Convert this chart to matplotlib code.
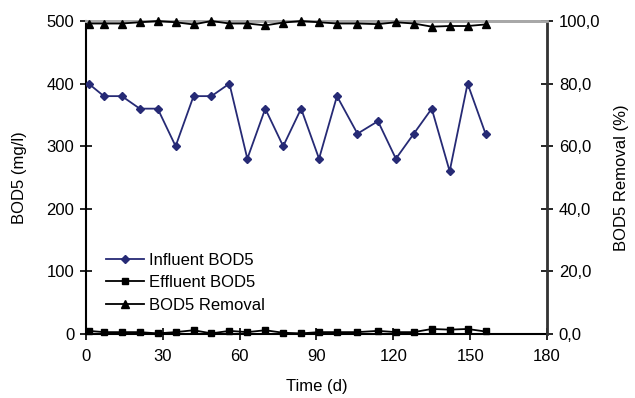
import matplotlib
matplotlib.use("Agg")
import matplotlib.pyplot as plt
from matplotlib.ticker import FuncFormatter

plt.rcParams['font.family'] = ['Liberation Sans', 'DejaVu Sans']

# sampling days (d)
days = [1, 7, 14, 21, 28, 35, 42, 49, 56, 63, 70, 77, 84, 91, 98,
        106, 114, 121, 128, 135, 142, 149, 156]
influent = [400, 380, 380, 360, 360, 300, 380, 380, 400, 280, 360, 300,
            360, 280, 380, 320, 340, 280, 320, 360, 260, 400, 320]
effluent = [5, 3, 3, 3, 1, 3, 6, 1, 5, 3, 6, 2, 1, 3, 3, 3, 5, 3, 3, 8, 7, 8, 4]
removal = [99.2, 99.2, 99.2, 99.6, 100.0, 99.6, 98.9, 100.0, 99.2, 99.2, 98.6, 99.5,
           100.0, 99.6, 99.2, 99.2, 99.0, 99.6, 99.2, 98.2, 98.4, 98.4, 98.9]

navy = "#262a75"
fs = 12

fig = plt.figure(figsize=(6.35, 3.98), dpi=100)
ax = fig.add_axes([0.1354, 0.1608, 0.7260, 0.7864])
ax2 = ax.twinx()

l1, = ax.plot(days, influent, color=navy, lw=1.3, marker="D", ms=4.5,
              label="Influent BOD5", zorder=3)
l2, = ax.plot(days, effluent, color="black", lw=1.3, marker="s", ms=5,
              label="Effluent BOD5", zorder=3, clip_on=False)
l3, = ax2.plot(days, removal, color="black", lw=1.3, marker="^", ms=5.5,
               label="BOD5 Removal", zorder=3, clip_on=False)

ax.set_xlim(0, 180)
ax.set_ylim(0, 500)
ax2.set_ylim(0, 100)
ax.set_xticks(range(0, 181, 30))
ax.set_yticks(range(0, 501, 100))
ax2.set_yticks(range(0, 101, 20))
ax2.yaxis.set_major_formatter(FuncFormatter(lambda v, p: f"{v:.1f}".replace(".", ",")))

for a in (ax, ax2):
    a.tick_params(direction="inout", length=9, width=1.2, labelsize=fs, pad=4)
    a.spines["top"].set_color("#a8a8a8")
    a.spines["top"].set_linewidth(2)
ax.tick_params(axis="x", pad=6)
ax.spines["left"].set_linewidth(1.5)
ax.spines["bottom"].set_linewidth(1.5)
ax2.spines["right"].set_color("#333333")
ax2.spines["right"].set_linewidth(2)
ax2.spines["left"].set_visible(False)
ax2.spines["bottom"].set_visible(False)

ax.set_xlabel("Time (d)", fontsize=fs, labelpad=11)
ax.set_ylabel("BOD5 (mg/l)", fontsize=fs, labelpad=14)
ax2.set_ylabel("BOD5 Removal (%)", fontsize=fs, labelpad=10)

ax.legend(handles=[l1, l2, l3], loc="lower left", bbox_to_anchor=(0.01, 0.02),
          frameon=False, fontsize=fs, handlelength=2.3, handletextpad=0.3,
          labelspacing=0.45)

fig.savefig("out.png", dpi=100)
